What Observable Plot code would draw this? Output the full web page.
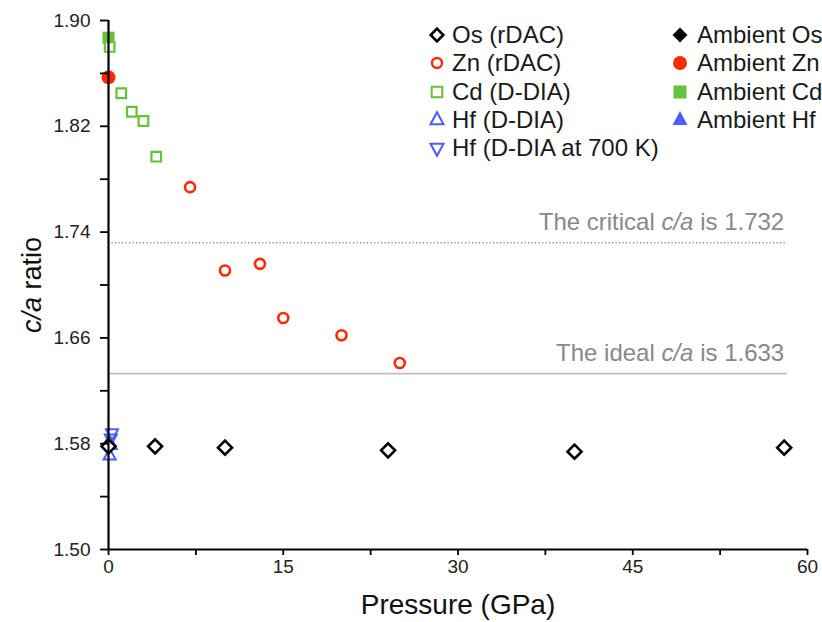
<!DOCTYPE html>
<html>
<head>
<meta charset="utf-8">
<script src="https://cdn.jsdelivr.net/npm/d3@7"></script>
<script src="https://cdn.jsdelivr.net/npm/@observablehq/plot@0.6"></script>
<style>
  html, body { margin: 0; padding: 0; background: #fff; }
  #wrap { position: relative; width: 822px; height: 622px; font-family: "Liberation Sans", Arial, sans-serif; }
  #legend { position: absolute; left: 0; top: 0; width: 822px; height: 170px; pointer-events: none; }
  .lg { position: absolute; font-size: 24px; color: #1a1a1a; line-height: 28px; height: 28px; white-space: nowrap; }
  .lg svg { position: absolute; top: 6px; overflow: visible; }
</style>
</head>
<body>
<div id="wrap"><div id="legend"></div></div>
<script>
// ---- data ----
const osP  = [0, 4, 10, 24, 40, 58];
const osCA = [1.578, 1.578, 1.577, 1.575, 1.574, 1.577];

const znP  = [7, 10, 13, 15, 20, 25];
const znCA = [1.774, 1.711, 1.716, 1.675, 1.662, 1.641];

const cdP  = [0.1, 1.1, 2.0, 3.0, 4.1];
const cdCA = [1.880, 1.845, 1.831, 1.824, 1.797];

const hfP  = [0.1, 0.2];
const hfCA = [1.571, 1.579];

const hf700P  = [0.3, 0.2];
const hf700CA = [1.588, 1.584];

const ambientNames = ["Os", "Zn", "Cd", "Hf"];
const ambientP  = [0, 0, 0, 0];
const ambientCA = [1.579, 1.857, 1.887, 1.581];

const refValues = [1.732, 1.633];
const refLabels = ["The critical c/a is 1.732", "The ideal c/a is 1.633"];

const yTicks = [1.50, 1.58, 1.66, 1.74, 1.82, 1.90];
const yMinor = [1.54, 1.62, 1.70, 1.78, 1.86];
const xTicks = [0, 15, 30, 45, 60];
const xMinor = [7.5, 22.5, 37.5, 52.5];

const legendLabels = ["Os (rDAC)", "Zn (rDAC)", "Cd (D-DIA)", "Hf (D-DIA)", "Hf (D-DIA at 700 K)"];
const legendAmbient = ["Ambient Os", "Ambient Zn", "Ambient Cd", "Ambient Hf"];

// ---- colours ----
const cOs = "#000000", cZn = "#ff2a00", cCd = "#66c23a", cHf = "#4d5cff";

// ---- custom symbols ----
const diamond = { draw(ctx, size) { const r = Math.sqrt(size / Math.PI);
  ctx.moveTo(0, -r); ctx.lineTo(r, 0); ctx.lineTo(0, r); ctx.lineTo(-r, 0); ctx.closePath(); } };
const square = { draw(ctx, size) { const r = Math.sqrt(size / Math.PI);
  ctx.rect(-r, -r, 2 * r, 2 * r); } };
const triUp = { draw(ctx, size) { const r = Math.sqrt(size / Math.PI);
  ctx.moveTo(0, -1.2 * r); ctx.lineTo(r, 0.65 * r); ctx.lineTo(-r, 0.65 * r); ctx.closePath(); } };
const triDown = { draw(ctx, size) { const r = Math.sqrt(size / Math.PI);
  ctx.moveTo(0, 1.2 * r); ctx.lineTo(r, -0.65 * r); ctx.lineTo(-r, -0.65 * r); ctx.closePath(); } };

const rows = (P, C) => P.map((p, i) => ({p, ca: C[i]}));
const os = rows(osP, osCA), zn = rows(znP, znCA), cd = rows(cdP, cdCA),
      hf = rows(hfP, hfCA), hf7 = rows(hf700P, hf700CA);
const amb = ambientNames.map((n, i) => ({n, p: ambientP[i], ca: ambientCA[i]}));
const refs = refValues.map((v, i) => ({v, label: refLabels[i]}));

const plot = Plot.plot({
  width: 822, height: 622,
  marginLeft: 108, marginRight: 15, marginTop: 20, marginBottom: 73,
  style: { fontFamily: "Liberation Sans, Arial, sans-serif", background: "#fff" },
  x: { domain: [0, 60] },
  y: { domain: [1.5, 1.9] },
  marks: [
    Plot.ruleY([refValues[0]], { x1: 0, x2: 58.3, stroke: "#888", strokeWidth: 1.5, strokeDasharray: "1.2,2.3" }),
    Plot.ruleY([refValues[1]], { x1: 0, x2: 58.3, stroke: "#bdbdbd", strokeWidth: 1.8 }),
    Plot.text(refs, { x: 58.0, y: "v", text: "label", textAnchor: "end", dy: -20, fill: "#888", fontSize: 24 }),
    // ambient (filled)
    Plot.dot(amb.filter(d => d.n === "Cd"), { x: "p", y: "ca", symbol: square, r: 6, fill: cCd }),
    Plot.dot(amb.filter(d => d.n === "Zn"), { x: "p", y: "ca", symbol: "circle", r: 7, fill: cZn }),
    Plot.dot(amb.filter(d => d.n === "Hf"), { x: "p", y: "ca", symbol: triUp, r: 6.5, fill: cHf }),
    Plot.dot(amb.filter(d => d.n === "Os"), { x: "p", y: "ca", symbol: diamond, r: 7, fill: cOs }),
    // measured (open)
    Plot.dot(hf, { x: "p", y: "ca", symbol: triUp, r: 6, stroke: cHf, strokeWidth: 2, fill: "none" }),
    Plot.dot(hf7, { x: "p", y: "ca", symbol: triDown, r: 6, stroke: cHf, strokeWidth: 2, fill: "none" }),
    Plot.dot(os, { x: "p", y: "ca", symbol: diamond, r: 7, stroke: cOs, strokeWidth: 2.6, fill: "white" }),
    Plot.dot(cd, { x: "p", y: "ca", symbol: square, r: 4.8, stroke: cCd, strokeWidth: 2.2, fill: "white" }),
    Plot.dot(zn, { x: "p", y: "ca", symbol: "circle", r: 5, stroke: cZn, strokeWidth: 2.6, fill: "white" }),
    // axes (tick marks only; labels drawn as text marks below)
    Plot.axisY({ ticks: yTicks, tickFormat: () => "", tickSize: 8, strokeWidth: 1.8, label: null }),
    Plot.axisY({ ticks: yMinor, tickFormat: () => "", tickSize: 8, strokeWidth: 1.8, label: null }),
    Plot.axisX({ ticks: xTicks, tickFormat: () => "", tickSize: 6, strokeWidth: 1.8, label: null }),
    Plot.axisX({ ticks: xMinor, tickFormat: () => "", tickSize: 6, strokeWidth: 1.8, label: null }),
    Plot.text(yTicks, { x: 0, y: d => d, text: d3.format(".2f"), textAnchor: "end", dx: -18, fontSize: 19, fill: "#222" }),
    Plot.text(xTicks, { x: d => d, y: 1.5, text: d3.format("d"), dy: 17, fontSize: 19, fill: "#222" }),
    Plot.ruleX([0], { stroke: "#000", strokeWidth: 2.2 }),
    Plot.ruleY([1.5], { stroke: "#000", strokeWidth: 2.2 }),
    Plot.text(["c/a ratio"], { frameAnchor: "left", textAnchor: "middle", lineAnchor: "middle", dx: -76, rotate: -90, fontSize: 27, fill: "#111" }),
    Plot.text(["Pressure (GPa)"], { frameAnchor: "bottom", textAnchor: "middle", lineAnchor: "middle", dy: 56, fontSize: 28, fill: "#111" })
  ]
});

// italicise "c/a"
plot.querySelectorAll("text").forEach(t => {
  const s = t.textContent;
  if (s.includes("c/a") && t.children.length === 0) {
    t.innerHTML = s.replace("c/a", '<tspan font-style="italic">c/a</tspan>');
  } else if (s.includes("c/a")) {
    t.querySelectorAll("tspan").forEach(ts => {
      if (ts.textContent.includes("c/a") && ts.children.length === 0)
        ts.innerHTML = ts.textContent.replace("c/a", '<tspan font-style="italic">c/a</tspan>');
    });
  }
});

const wrap = document.getElementById("wrap");
wrap.insertBefore(plot, wrap.firstChild);

// ---- legend (HTML overlay) ----
const legend = document.getElementById("legend");
const symPath = (sym, r) => d3.symbol(sym, Math.PI * r * r)();
const col1 = [
  { sym: diamond, r: 6.3, stroke: cOs, fill: "white", sw: 2.6 },
  { sym: d3.symbolCircle, r: 5, stroke: cZn, fill: "white", sw: 2.4 },
  { sym: square, r: 5.3, stroke: cCd, fill: "white", sw: 2 },
  { sym: triUp, r: 6.5, stroke: cHf, fill: "white", sw: 2 },
  { sym: triDown, r: 6.5, stroke: cHf, fill: "white", sw: 2 }
];
const col2 = [
  { sym: diamond, r: 7.5, fill: cOs },
  { sym: d3.symbolCircle, r: 7, fill: cZn },
  { sym: square, r: 6.5, fill: cCd },
  { sym: triUp, r: 7.5, fill: cHf }
];
function addItem(x, y, label, s, symX) {
  const div = document.createElement("div");
  div.className = "lg";
  div.style.left = x + "px";
  div.style.top = (y - 14) + "px";
  div.textContent = label;
  const svg = d3.create("svg").attr("width", 16).attr("height", 16).style("left", (symX - 8 - x) + "px");
  svg.append("path").attr("transform", "translate(8,8)").attr("d", symPath(s.sym, s.r))
    .attr("fill", s.fill).attr("stroke", s.stroke || "none").attr("stroke-width", s.sw || 0);
  div.appendChild(svg.node());
  legend.appendChild(div);
}
legendLabels.forEach((l, i) => addItem(452, 35 + i * 28.3, l, col1[i], 437));
legendAmbient.forEach((l, i) => addItem(697, 35 + i * 28.3, l, col2[i], 680));
</script>
</body>
</html>
